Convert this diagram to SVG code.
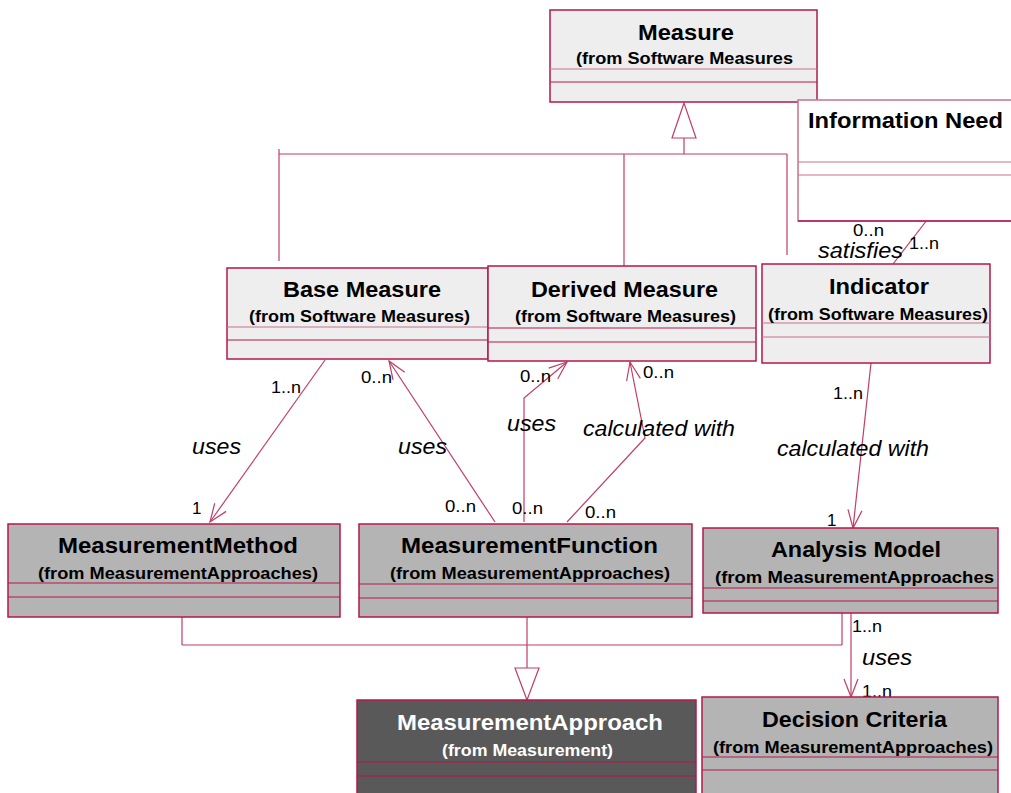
<svg xmlns="http://www.w3.org/2000/svg" width="1011" height="793" viewBox="0 0 1011 793">
  <style>
    .box { stroke: #b3194a; stroke-width: 1.5; }
    .light { fill: #eeeeee; }
    .gray { fill: #b4b4b4; }
    .dark { fill: #595959; }
    .white { fill: #ffffff; }
    .sepl { stroke: #c9718c; stroke-width: 1.2; }
    .sepd { stroke: #b3194a; stroke-width: 1.2; }
    .conn { fill: none; stroke: #c13d66; stroke-width: 1.2; }
    .gen { fill: #ffffff; stroke: #c13d66; stroke-width: 1.2; }
    .title { font-family: "Liberation Sans", Arial, sans-serif; font-weight: bold; font-size: 22px; fill: #000000; }
    .sub { font-family: "Liberation Sans", Arial, sans-serif; font-weight: bold; font-size: 16.5px; fill: #000000; }
    .inv { fill: #ffffff; }
    .lbl { font-family: "Liberation Sans", Arial, sans-serif; font-style: italic; font-size: 22px; fill: #000000; }
    .mul { font-family: "Liberation Sans", Arial, sans-serif; font-size: 17px; fill: #000000; }
  </style>
  <defs>
    <marker id="open" markerUnits="userSpaceOnUse" markerWidth="24" markerHeight="20" viewBox="-20 -10 24 20" refX="0" refY="0" orient="auto">
      <path d="M-18,-7 L0,0 L-18,7" fill="none" stroke="#c13d66" stroke-width="1.2"/>
    </marker>
  </defs>

  <!-- generalization and association lines -->
  <g id="connectors">
    <!-- Measure hierarchy -->
    <polygon class="gen" points="684,103 672,138 696,138"/>
    <line class="conn" x1="684" y1="138" x2="684" y2="154"/>
    <line class="conn" x1="279" y1="154" x2="787" y2="154"/>
    <line class="conn" x1="279" y1="149" x2="279" y2="261"/>
    <line class="conn" x1="624" y1="154" x2="624" y2="266"/>
    <line class="conn" x1="787" y1="154" x2="787" y2="255"/>

    <!-- satisfies -->
    <line class="conn" x1="927" y1="220" x2="893" y2="264"/>

    <!-- Base Measure uses MeasurementMethod -->
    <line class="conn" x1="325" y1="360" x2="210" y2="522" marker-end="url(#open)"/>
    <!-- MeasurementFunction uses Base Measure -->
    <line class="conn" x1="495" y1="522" x2="389" y2="361" marker-end="url(#open)"/>
    <!-- MeasurementFunction uses Derived Measure -->
    <polyline class="conn" points="524,522 524,398 567,362" marker-end="url(#open)"/>
    <!-- MeasurementFunction calculated with Derived Measure -->
    <polyline class="conn" points="567,522 645,438 630,362" marker-end="url(#open)"/>
    <!-- Indicator calculated with Analysis Model -->
    <line class="conn" x1="871" y1="363" x2="853" y2="528" marker-end="url(#open)"/>

    <!-- MeasurementApproach hierarchy -->
    <line class="conn" x1="182" y1="617" x2="182" y2="645"/>
    <line class="conn" x1="182" y1="645" x2="842" y2="645"/>
    <line class="conn" x1="842" y1="613" x2="842" y2="645"/>
    <line class="conn" x1="527" y1="617" x2="527" y2="668"/>
    <polygon class="gen" points="527,700 515,668 539,668"/>

    <!-- Analysis Model uses Decision Criteria -->
    <line class="conn" x1="851" y1="613" x2="851" y2="697" marker-end="url(#open)"/>
  </g>

  <!-- association labels -->
  <g id="labels">
    <text class="mul" x="853" y="236" textLength="31" lengthAdjust="spacingAndGlyphs">0..n</text>
    <text class="lbl" x="818" y="258" textLength="85" lengthAdjust="spacingAndGlyphs">satisfies</text>
    <text class="mul" x="909" y="249" textLength="30" lengthAdjust="spacingAndGlyphs">1..n</text>

    <text class="mul" x="271" y="393" textLength="30" lengthAdjust="spacingAndGlyphs">1..n</text>
    <text class="lbl" x="192" y="454" textLength="49" lengthAdjust="spacingAndGlyphs">uses</text>
    <text class="mul" x="192" y="514">1</text>

    <text class="mul" x="361" y="383" textLength="31" lengthAdjust="spacingAndGlyphs">0..n</text>
    <text class="lbl" x="398" y="454" textLength="49" lengthAdjust="spacingAndGlyphs">uses</text>
    <text class="mul" x="445" y="512" textLength="31" lengthAdjust="spacingAndGlyphs">0..n</text>

    <text class="mul" x="520" y="382" textLength="31" lengthAdjust="spacingAndGlyphs">0..n</text>
    <text class="lbl" x="507" y="431" textLength="49" lengthAdjust="spacingAndGlyphs">uses</text>
    <text class="mul" x="512" y="514" textLength="31" lengthAdjust="spacingAndGlyphs">0..n</text>

    <text class="mul" x="643" y="378" textLength="31" lengthAdjust="spacingAndGlyphs">0..n</text>
    <text class="lbl" x="583" y="436" textLength="152" lengthAdjust="spacingAndGlyphs">calculated with</text>
    <text class="mul" x="585" y="518" textLength="31" lengthAdjust="spacingAndGlyphs">0..n</text>

    <text class="mul" x="833" y="399" textLength="30" lengthAdjust="spacingAndGlyphs">1..n</text>
    <text class="lbl" x="777" y="456" textLength="152" lengthAdjust="spacingAndGlyphs">calculated with</text>
    <text class="mul" x="827" y="526">1</text>

    <text class="mul" x="852" y="632" textLength="30" lengthAdjust="spacingAndGlyphs">1..n</text>
    <text class="lbl" x="862" y="665" textLength="50" lengthAdjust="spacingAndGlyphs">uses</text>
    <text class="mul" x="862" y="697" textLength="30" lengthAdjust="spacingAndGlyphs">1..n</text>
  </g>

  <g id="measure">
    <rect class="box light" x="550" y="10" width="267" height="92"/>
    <line class="sepl" x1="550" y1="69" x2="817" y2="69"/>
    <line class="sepd" x1="550" y1="82" x2="817" y2="82"/>
    <text class="title" x="638" y="40" textLength="96" lengthAdjust="spacingAndGlyphs">Measure</text>
    <text class="sub" x="576" y="64" textLength="217" lengthAdjust="spacingAndGlyphs">(from Software Measures</text>
  </g>

  <g id="information-need">
    <rect class="box white" x="798" y="100" width="230" height="121" style="stroke:#c9718c"/>
    <line x1="798" y1="221" x2="1011" y2="221" class="sepd" style="stroke-width:1.5"/>
    <line class="sepl" x1="798" y1="162" x2="1011" y2="162"/>
    <line class="sepl" x1="798" y1="175" x2="1011" y2="175"/>
    <text class="title" x="808" y="128" textLength="195" lengthAdjust="spacingAndGlyphs">Information Need</text>
  </g>

  <g id="base-measure">
    <rect class="box light" x="227" y="268" width="261" height="91"/>
    <line class="sepl" x1="227" y1="327" x2="488" y2="327"/>
    <line class="sepd" x1="227" y1="340" x2="488" y2="340"/>
    <text class="title" x="283" y="297" textLength="158" lengthAdjust="spacingAndGlyphs">Base Measure</text>
    <text class="sub" x="249" y="322" textLength="221" lengthAdjust="spacingAndGlyphs">(from Software Measures)</text>
  </g>

  <g id="derived-measure">
    <rect class="box light" x="488" y="266" width="268" height="95"/>
    <line class="sepd" x1="488" y1="328" x2="756" y2="328"/>
    <line class="sepd" x1="488" y1="342" x2="756" y2="342"/>
    <text class="title" x="531" y="297" textLength="187" lengthAdjust="spacingAndGlyphs">Derived Measure</text>
    <text class="sub" x="515" y="322" textLength="221" lengthAdjust="spacingAndGlyphs">(from Software Measures)</text>
  </g>

  <g id="indicator">
    <rect class="box light" x="762" y="264" width="228" height="99"/>
    <line class="sepl" x1="762" y1="323" x2="990" y2="323"/>
    <line class="sepl" x1="762" y1="337" x2="990" y2="337"/>
    <text class="title" x="829" y="294" textLength="100" lengthAdjust="spacingAndGlyphs">Indicator</text>
    <text class="sub" x="768" y="320" textLength="220" lengthAdjust="spacingAndGlyphs">(from Software Measures)</text>
  </g>

  <g id="measurement-method">
    <rect class="box gray" x="8" y="524" width="332" height="93"/>
    <line class="sepd" x1="8" y1="583" x2="340" y2="583"/>
    <line class="sepd" x1="8" y1="597" x2="340" y2="597"/>
    <text class="title" x="58" y="553" textLength="240" lengthAdjust="spacingAndGlyphs">MeasurementMethod</text>
    <text class="sub" x="38" y="579" textLength="280" lengthAdjust="spacingAndGlyphs">(from MeasurementApproaches)</text>
  </g>

  <g id="measurement-function">
    <rect class="box gray" x="359" y="524" width="333" height="93"/>
    <line class="sepd" x1="359" y1="584" x2="692" y2="584"/>
    <line class="sepd" x1="359" y1="598" x2="692" y2="598"/>
    <text class="title" x="401" y="553" textLength="257" lengthAdjust="spacingAndGlyphs">MeasurementFunction</text>
    <text class="sub" x="390" y="579" textLength="280" lengthAdjust="spacingAndGlyphs">(from MeasurementApproaches)</text>
  </g>

  <g id="analysis-model">
    <rect class="box gray" x="703" y="528" width="295" height="85"/>
    <line class="sepd" x1="703" y1="588" x2="998" y2="588"/>
    <line class="sepd" x1="703" y1="601" x2="998" y2="601"/>
    <text class="title" x="771" y="557" textLength="170" lengthAdjust="spacingAndGlyphs">Analysis Model</text>
    <text class="sub" x="715" y="583" textLength="279" lengthAdjust="spacingAndGlyphs">(from MeasurementApproaches</text>
  </g>

  <g id="measurement-approach">
    <rect class="box dark" x="357" y="700" width="339" height="100"/>
    <line class="sepd" x1="357" y1="762" x2="696" y2="762"/>
    <line class="sepd" x1="357" y1="776" x2="696" y2="776"/>
    <text class="title inv" x="397" y="730" textLength="266" lengthAdjust="spacingAndGlyphs">MeasurementApproach</text>
    <text class="sub inv" x="442" y="756" textLength="171" lengthAdjust="spacingAndGlyphs">(from Measurement)</text>
  </g>

  <g id="decision-criteria">
    <rect class="box gray" x="702" y="697" width="296" height="103"/>
    <line class="sepd" x1="702" y1="757" x2="998" y2="757"/>
    <line class="sepd" x1="702" y1="770" x2="998" y2="770"/>
    <text class="title" x="762" y="727" textLength="185" lengthAdjust="spacingAndGlyphs">Decision Criteria</text>
    <text class="sub" x="713" y="753" textLength="280" lengthAdjust="spacingAndGlyphs">(from MeasurementApproaches)</text>
  </g>
</svg>
